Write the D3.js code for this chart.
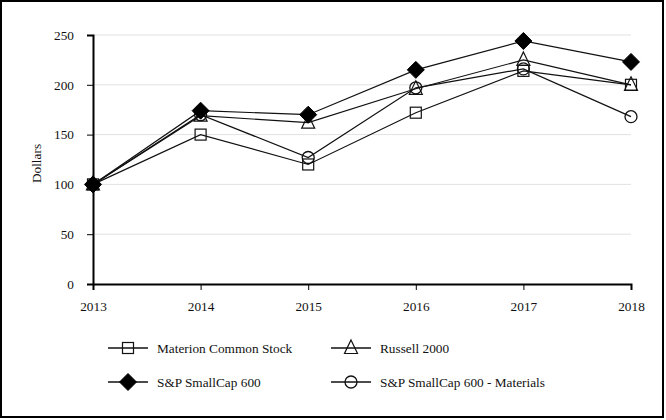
<!DOCTYPE html>
<html>
<head>
<meta charset="utf-8">
<script src="https://cdn.jsdelivr.net/npm/d3@7"></script>
<style>
  body { margin: 0; background: #fff; }
  svg text { font-family: "Times New Roman", Times, "Liberation Serif", serif; fill: #111; }
</style>
</head>
<body>
<div id="chart-area"></div>
<script>
// data
var years = ["2013", "2014", "2015", "2016", "2017", "2018"];
var seriesNames = ["Materion Common Stock", "Russell 2000", "S&P SmallCap 600", "S&P SmallCap 600 - Materials"];
var materion = [100, 150, 120, 172, 214, 200];
var russell = [100, 169, 162, 196, 225, 200];
var smallcap = [100, 174, 170, 215, 244, 223];
var materials = [100, 170, 127, 197, 216, 168];
var yTicks = [0, 50, 100, 150, 200, 250];

var W = 666, H = 420;
var margin = { left: 93, right: 35, top: 35, bottom: 136 };
var width = W - margin.left - margin.right;
var height = H - margin.top - margin.bottom;
var serif = '"Times New Roman", Times, "Liberation Serif", serif';
var fs = "13.3px";

var svg = d3.select("#chart-area")
    .append("svg")
    .attr("width", W)
    .attr("height", H);

// outer frame
svg.append("rect")
    .attr("x", 1).attr("y", 1)
    .attr("width", W - 4).attr("height", H - 4)
    .attr("fill", "none")
    .attr("stroke", "#000")
    .attr("stroke-width", 2);

var g = svg.append("g")
    .attr("transform", "translate(" + margin.left + ", " + margin.top + ")");

var x = d3.scalePoint()
    .domain(years)
    .range([0, width]);

var y = d3.scaleLinear()
    .domain([0, 250])
    .range([height, 0]);

// gridlines
g.selectAll(".grid")
    .data(yTicks.filter(d => d > 0))
    .enter()
    .append("line")
    .attr("class", "grid")
    .attr("x1", 0).attr("x2", width)
    .attr("y1", d => y(d)).attr("y2", d => y(d))
    .attr("stroke", "#e2e2e2")
    .attr("stroke-width", 1);

var yAxisCall = d3.axisLeft(y)
    .tickValues(yTicks)
    .tickSize(6)
    .tickPadding(13);
var yAxis = g.append("g")
    .attr("class", "y-axis")
    .attr("font-family", serif)
    .call(yAxisCall);
yAxis.select(".domain").attr("stroke", "#000").attr("stroke-width", 2);
yAxis.selectAll(".tick line").attr("stroke", "#000");
yAxis.selectAll("text").attr("font-size", fs);

var xAxisCall = d3.axisBottom(x)
    .tickSize(6)
    .tickPadding(12);
var xAxis = g.append("g")
    .attr("class", "x-axis")
    .attr("font-family", serif)
    .attr("transform", "translate(0, " + height + ")")
    .call(xAxisCall);
xAxis.select(".domain").attr("stroke", "#000").attr("stroke-width", 2);
xAxis.selectAll(".tick line").attr("stroke", "#000");
xAxis.selectAll("text").attr("font-size", fs);

g.append("text")
    .attr("transform", "rotate(-90)")
    .attr("x", -128.5)
    .attr("y", -52)
    .attr("text-anchor", "middle")
    .attr("font-size", fs)
    .text("Dollars");

// markers (hollow ones are unfilled, lines show through)
function drawMarker(sel, type) {
    if (type === "square") {
        sel.append("rect")
            .attr("x", -5.5).attr("y", -5.5).attr("width", 11).attr("height", 11)
            .attr("fill", "none").attr("stroke", "#111").attr("stroke-width", 1.2);
    } else if (type === "triangle") {
        sel.append("path")
            .attr("d", "M0,-8L6.5,5.5L-6.5,5.5Z")
            .attr("fill", "none").attr("stroke", "#111").attr("stroke-width", 1.2);
    } else if (type === "diamond") {
        sel.append("path")
            .attr("d", "M0,-8.5L8.5,0L0,8.5L-8.5,0Z")
            .attr("fill", "#000").attr("stroke", "#000").attr("stroke-width", 1);
    } else {
        sel.append("circle")
            .attr("r", 6)
            .attr("fill", "none").attr("stroke", "#111").attr("stroke-width", 1.3);
    }
}

var series = [
    { name: seriesNames[0], values: materion, marker: "square" },
    { name: seriesNames[1], values: russell, marker: "triangle" },
    { name: seriesNames[2], values: smallcap, marker: "diamond" },
    { name: seriesNames[3], values: materials, marker: "circle" }
];

var line = d3.line()
    .x((d, i) => x(years[i]))
    .y(d => y(d));

series.forEach(s => {
    g.append("path")
        .attr("d", line(s.values))
        .attr("fill", "none")
        .attr("stroke", "#111")
        .attr("stroke-width", 1.2);
});

// draw the filled diamonds last so they sit on top
[series[3], series[1], series[0], series[2]].forEach(s => {
    s.values.forEach((v, i) => {
        var m = g.append("g")
            .attr("transform", "translate(" + x(years[i]) + "," + y(v) + ")");
        drawMarker(m, s.marker);
    });
});

// legend
var legendPos = [
    { lx: 108, ly: 348 },
    { lx: 331, ly: 348 },
    { lx: 108, ly: 382 },
    { lx: 331, ly: 382 }
];
series.forEach((s, i) => {
    var p = legendPos[i];
    var lg = svg.append("g").attr("transform", "translate(" + p.lx + "," + p.ly + ")");
    lg.append("line")
        .attr("x1", 0).attr("x2", 40)
        .attr("y1", 0).attr("y2", 0)
        .attr("stroke", "#111").attr("stroke-width", 1.5);
    var m = lg.append("g").attr("transform", "translate(20,0)");
    drawMarker(m, s.marker);
    lg.append("text")
        .attr("x", 49)
        .attr("y", 4.5)
        .attr("font-size", fs)
        .text(s.name);
});
</script>
</body>
</html>
